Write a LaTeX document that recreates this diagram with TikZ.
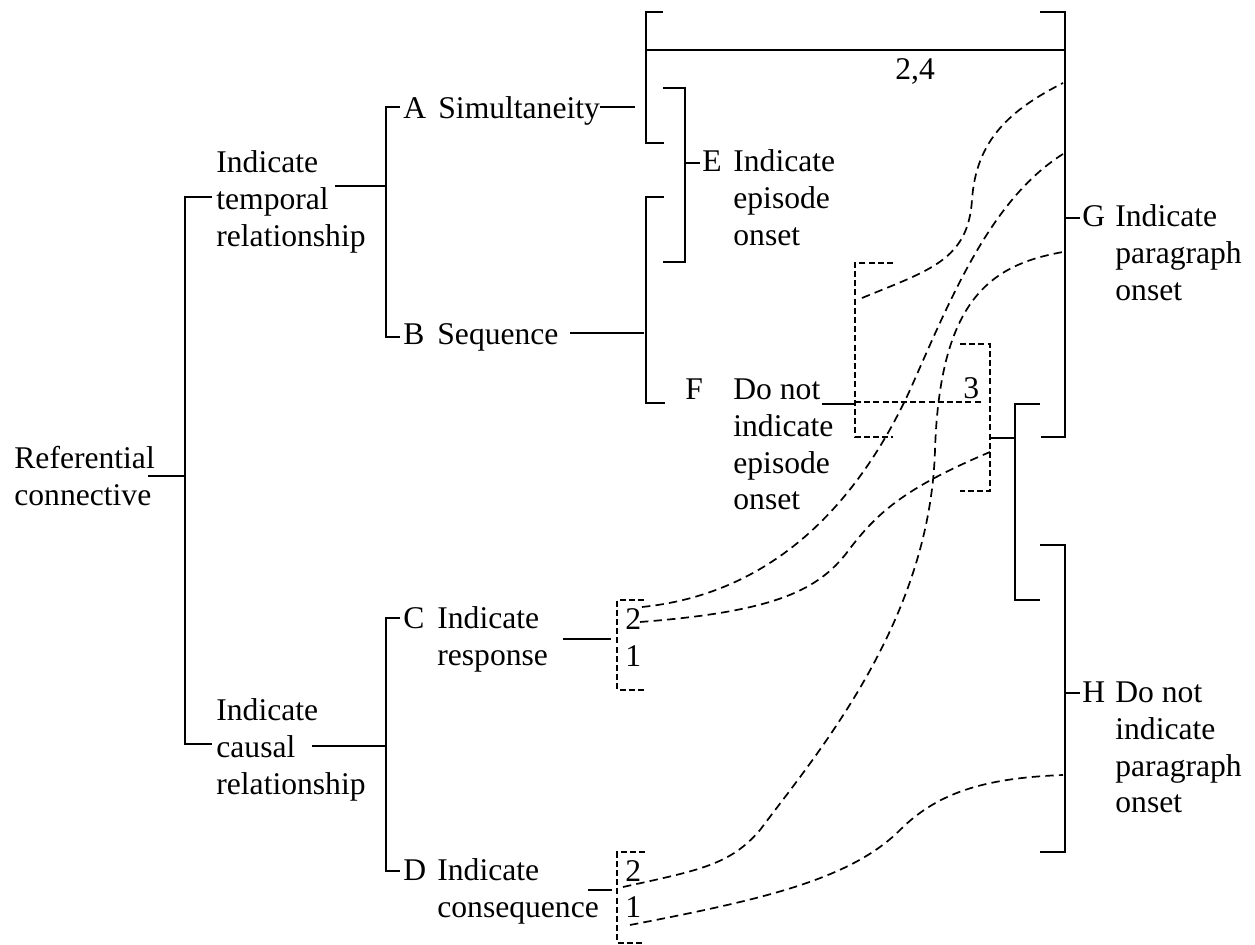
\documentclass[tikz,border=0pt]{standalone}
\usepackage{fontspec}
\setmainfont{Liberation Serif}
\newcommand{\txtlines}[1]{\begin{tabular}[t]{@{}l@{}}#1\end{tabular}}
\tikzset{
    txt/.style={anchor=base west, inner sep=0pt,
        font=\fontsize{15.8}{18.3}\selectfont},
    brk/.style={line width=0.85pt},
    link/.style={line width=0.85pt, dash pattern=on 4.2pt off 2.6pt},
    box/.style={line width=0.85pt, dash pattern=on 3pt off 1.6pt},
}
\begin{document}
\begin{tikzpicture}[x=0.5pt,y=-0.5pt]
    \useasboundingbox (0,0) rectangle (1255,945);

    \node[txt] (root) at (14,469) {\txtlines{Referential\\connective}};
    \node[txt] (temporal) at (216,173) {\txtlines{Indicate\\temporal\\relationship}};
    \node[txt] (causal) at (216,721) {\txtlines{Indicate\\causal\\relationship}};
    \foreach \t/\x/\y in {A/403/119, B/403/345, C/403/629, D/403/881,
        E/702/172, F/685/400, G/1082/227, H/1082/703}{
      \node[txt,name=let\t] at (\x,\y) {\t};
    }
    \node[txt] (simA) at (438,119) {Simultaneity};
    \node[txt] (seqB) at (437,345) {Sequence};
    \node[txt] (respC) at (437,629) {\txtlines{Indicate\\response}};
    \node[txt] (consD) at (437,881) {\txtlines{Indicate\\consequence}};
    \node[txt] (epiE) at (733,172) {\txtlines{Indicate\\episode\\onset}};
    \node[txt] (noepiF) at (733,400) {\txtlines{Do not\\indicate\\episode\\onset}};
    \node[txt] (paraG) at (1115,227) {\txtlines{Indicate\\paragraph\\onset}};
    \node[txt] (noparaH) at (1115,703) {\txtlines{Do not\\indicate\\paragraph\\onset}};
    \node[txt] (top24) at (895,80) {2,4};
    \node[txt] (mid3) at (963,399) {3};
    \foreach \n/\y/\t in {ctwo/630/2, cone/667/1, dtwo/882/2, done/918/1}{
      \node[txt,name=\n] at (625,\y) {\t};
    }

    \draw[brk] (148,476) -- (185,476);
    \draw[brk] (212,197) -- (185,197) -- (185,744) -- (212,744);
    \draw[brk] (335,186) -- (386,186);
    \draw[brk] (400,107) -- (386,107) -- (386,337) -- (400,337);
    \draw[brk] (312,746) -- (386,746);
    \draw[brk] (400,618) -- (386,618) -- (386,871) -- (400,871);
    \draw[brk] (600,107) -- (635,107);
    \draw[brk] (570,333) -- (644,333);
    \draw[brk] (563,639) -- (611,639);
    \draw[brk] (588,890) -- (612,890);
    \draw[brk] (663,12) -- (646,12) -- (646,143) -- (664,143);
    \draw[brk] (646,50) -- (1065,50);
    \draw[brk] (1040,12) -- (1065,12) -- (1065,437) -- (1041,437);
    \draw[brk] (664,197) -- (646,197) -- (646,403) -- (665,403);
    \draw[brk] (663,88) -- (685,88) -- (685,262) -- (663,262);
    \draw[brk] (685,163) -- (700,163);
    \draw[brk] (822,404) -- (855,404);
    \draw[brk] (1065,218) -- (1080,218);
    \draw[brk] (990,438) -- (1015,438);
    \draw[brk] (1040,404) -- (1015,404) -- (1015,600) -- (1040,600);
    \draw[brk] (1040,545) -- (1065,545) -- (1065,852) -- (1040,852);
    \draw[brk] (1065,693) -- (1080,693);

    \draw[box] (893,263) -- (855,263) -- (855,437) -- (893,437);
    \draw[box] (855,402) -- (983,402);
    \draw[box] (960,344) -- (990,344) -- (990,491) -- (960,491);
    \draw[box] (644,600) -- (617,600) -- (617,690) -- (644,690);
    \draw[box] (645,852) -- (617,852) -- (617,943) -- (645,943);

    \coordinate (fbox) at (862,298);
    \coordinate (rbox) at (990,452);
    \coordinate (cupper) at (642,607);
    \coordinate (clower) at (640,622);
    \coordinate (dupper) at (623,887);
    \coordinate (dlower) at (630,925);
    \coordinate (gone) at (1063,83);
    \coordinate (gtwo) at (1063,154);
    \coordinate (gthree) at (1063,252);
    \coordinate (hone) at (1063,775);

    \draw[link] (fbox) .. controls (930,270) and (968,260) .. (972,200)
        .. controls (976,140) and (1010,110) .. (gone);
    \draw[link] (cupper) .. controls (760,595) and (850,520) .. (910,390)
        .. controls (950,300) and (990,200) .. (gtwo);
    \draw[link] (dupper) .. controls (700,870) and (730,865) .. (760,830)
        .. controls (820,750) and (930,620) .. (935,450)
        .. controls (940,300) and (990,265) .. (gthree);
    \draw[link] (clower) .. controls (770,612) and (815,592) .. (845,555)
        .. controls (875,515) and (900,490) .. (rbox);
    \draw[link] (dlower) .. controls (760,900) and (850,880) .. (900,830)
        .. controls (940,790) and (990,778) .. (hone);
  \end{tikzpicture}
\end{document}
